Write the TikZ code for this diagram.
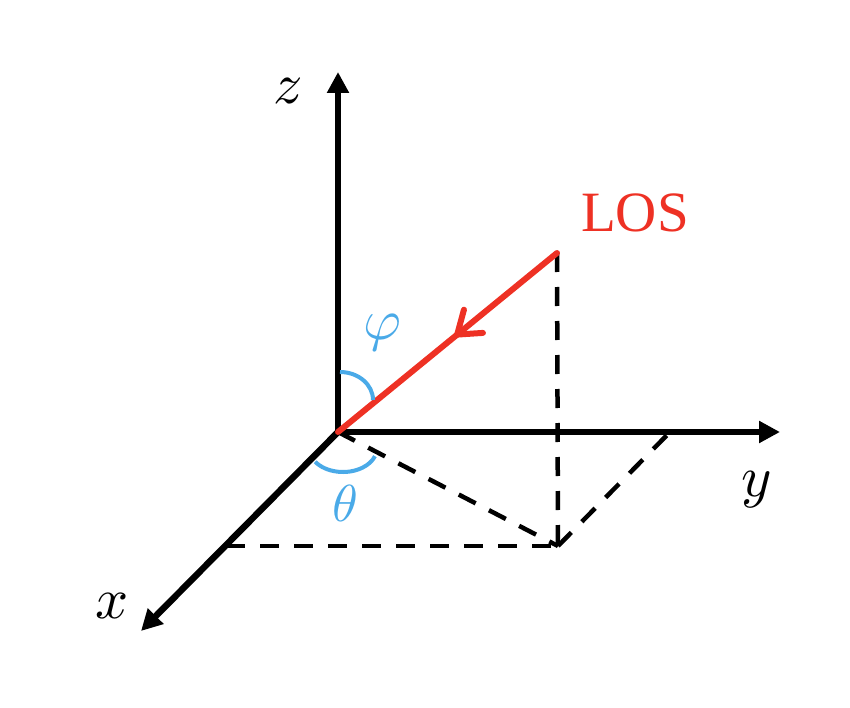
\documentclass[tikz,border=0pt]{standalone}
\usepackage{fontspec}
\usepackage{unicode-math}
\setmainfont{Liberation Serif}
\setmathfont{Latin Modern Math}
\usetikzlibrary{arrows.meta,decorations.markings}
\definecolor{losred}{HTML}{EE3124}
\definecolor{angblue}{HTML}{4AAAE8}
\tikzset{
  axis/.style={line width=6.5pt,-{Triangle[length=21pt,width=21pt]}},
  helper/.style={line width=4.5pt,dash pattern=on 19pt off 15pt},
  anglearc/.style={angblue,line width=4pt},
  lbl/.style={inner sep=0pt,font=\fontsize{58}{58}\selectfont},
  loslbl/.style={inner sep=0pt,losred,font=\fontsize{57}{57}\selectfont},
  losline/.style={losred,line width=6pt,line cap=round,
    postaction={decorate},
    decoration={markings,mark=at position 0.474 with {\arrow[line width=6pt]{Straight Barb[length=21pt,width=30pt,line cap=round]}}}}
}
\begin{document}
\begin{tikzpicture}[x=1pt,y=-1pt]
\useasboundingbox (0,0) rectangle (850,708);
% points
\coordinate (O) at (338,432);
\coordinate (Z) at (338,72);
\coordinate (Y) at (780,432);
\coordinate (X) at (141,631);
\coordinate (P) at (557,253);
\coordinate (S) at (226,546);
\coordinate (Q) at (558,546);
\coordinate (R) at (670,432);
% dashed helpers
\draw[helper] (P) -- (Q);
\draw[helper] (O) -- (Q);
\draw[helper] (S) -- (Q);
\draw[helper] (Q) -- (R);
% axes
\draw[axis] (O) -- (Z);
\draw[axis] (O) -- (Y);
\draw[axis] (O) -- (X);
% LOS
\draw[losline] (P) -- (O);
% angle arcs
\draw[anglearc] (340,372) arc[start angle=-90,end angle=0,x radius=33,y radius=28];
\draw[anglearc] (343,448) ++(145:34 and 24) arc[start angle=145,end angle=20,x radius=34,y radius=24];
% labels
\node[lbl] (zl) at (288,91) {$z$};
\node[lbl] (yl) at (757,490) {$y$};
\node[lbl] (xl) at (112,606) {$x$};
\node[lbl,angblue] (phil) at (382,333) {$\varphi$};
\node[lbl,angblue,font=\fontsize{52}{52}\selectfont] (thetal) at (345,503) {$\theta$};
\node[loslbl] (losl) at (635,213) {LOS};
\end{tikzpicture}
\end{document}
